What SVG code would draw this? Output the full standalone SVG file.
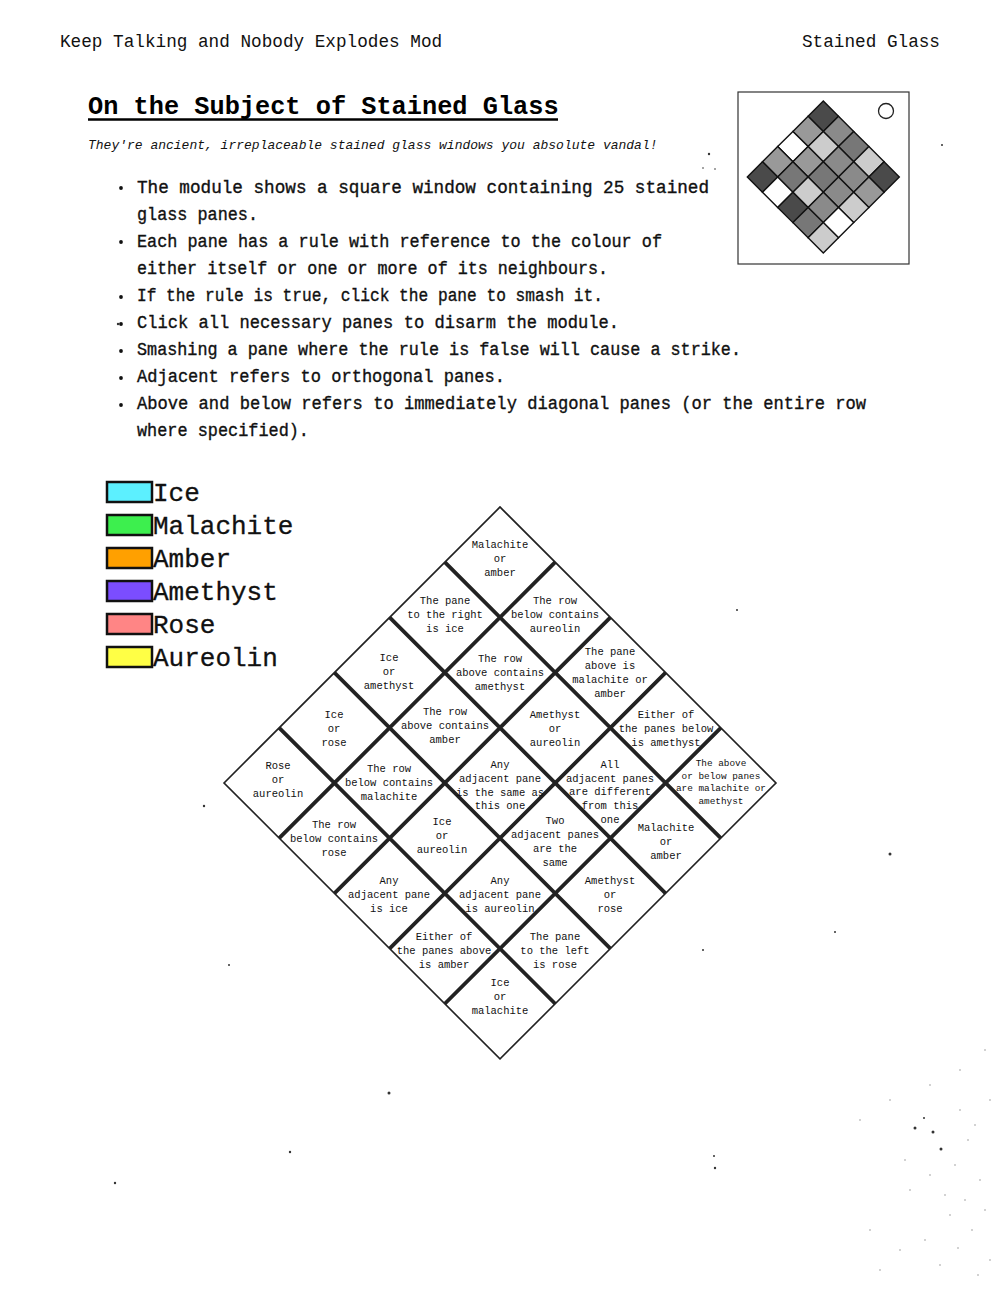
<svg xmlns="http://www.w3.org/2000/svg" width="1000" height="1300" viewBox="0 0 1000 1300">
<style>
.hdr{font-family:"Liberation Mono","DejaVu Sans Mono",monospace;font-size:17.7px;fill:#111}
.title{font-family:"Liberation Mono","DejaVu Sans Mono",monospace;font-size:25.3px;font-weight:bold;fill:#000}
.sub{font-family:"Liberation Mono","DejaVu Sans Mono",monospace;font-size:13px;font-style:italic;fill:#111}
.bul{font-family:"Liberation Mono","DejaVu Sans Mono",monospace;font-size:17.7px;fill:#111;stroke:#111;stroke-width:0.35}
.leg{font-family:"Liberation Mono","DejaVu Sans Mono",monospace;font-size:26px;fill:#111;stroke:#111;stroke-width:0.3}
.pn{font-family:"Liberation Mono","DejaVu Sans Mono",monospace;font-size:10.5px;fill:#111;text-anchor:middle}
.pns{font-family:"Liberation Mono","DejaVu Sans Mono",monospace;font-size:9.4px;fill:#111;text-anchor:middle}
.sw{stroke:#111;stroke-width:2.5}
.ic{stroke:#111;stroke-width:1.4}
.grid{stroke:#222;stroke-width:3.8;fill:none}
.speck{fill:#333}
</style>

<g id="header">
<text class="hdr" x="60" y="47">Keep Talking and Nobody Explodes Mod</text>
<text class="hdr" x="940" y="47" text-anchor="end">Stained Glass</text>
</g>

<g id="title">
<text class="title" x="88" y="114">On the Subject of Stained Glass</text>
<line x1="88" y1="119.5" x2="558" y2="119.5" stroke="#000" stroke-width="2.5"/>
<text class="sub" x="88" y="149">They're ancient, irreplaceable stained glass windows you absolute vandal!</text>
</g>

<g id="module-picture">
<rect x="738" y="92" width="171" height="172" fill="#fff" stroke="#333" stroke-width="1.2"/>
<circle cx="886" cy="111" r="7.5" fill="#fff" stroke="#222" stroke-width="1.3"/>
<g transform="translate(823.3,101) rotate(45)">
<rect class="ic" x="0" y="0" width="21.5" height="21.5" fill="#4a4a4a"/>
<rect class="ic" x="21.5" y="0" width="21.5" height="21.5" fill="#8a8a8a"/>
<rect class="ic" x="43" y="0" width="21.5" height="21.5" fill="#777"/>
<rect class="ic" x="64.5" y="0" width="21.5" height="21.5" fill="#ccc"/>
<rect class="ic" x="86" y="0" width="21.5" height="21.5" fill="#4a4a4a"/>
<rect class="ic" x="0" y="21.5" width="21.5" height="21.5" fill="#999"/>
<rect class="ic" x="21.5" y="21.5" width="21.5" height="21.5" fill="#ccc"/>
<rect class="ic" x="43" y="21.5" width="21.5" height="21.5" fill="#8a8a8a"/>
<rect class="ic" x="64.5" y="21.5" width="21.5" height="21.5" fill="#8a8a8a"/>
<rect class="ic" x="86" y="21.5" width="21.5" height="21.5" fill="#999"/>
<rect class="ic" x="0" y="43" width="21.5" height="21.5" fill="#fff"/>
<rect class="ic" x="21.5" y="43" width="21.5" height="21.5" fill="#999"/>
<rect class="ic" x="43" y="43" width="21.5" height="21.5" fill="#777"/>
<rect class="ic" x="64.5" y="43" width="21.5" height="21.5" fill="#8a8a8a"/>
<rect class="ic" x="86" y="43" width="21.5" height="21.5" fill="#ccc"/>
<rect class="ic" x="0" y="64.5" width="21.5" height="21.5" fill="#999"/>
<rect class="ic" x="21.5" y="64.5" width="21.5" height="21.5" fill="#777"/>
<rect class="ic" x="43" y="64.5" width="21.5" height="21.5" fill="#ccc"/>
<rect class="ic" x="64.5" y="64.5" width="21.5" height="21.5" fill="#8a8a8a"/>
<rect class="ic" x="86" y="64.5" width="21.5" height="21.5" fill="#fff"/>
<rect class="ic" x="0" y="86" width="21.5" height="21.5" fill="#4a4a4a"/>
<rect class="ic" x="21.5" y="86" width="21.5" height="21.5" fill="#fff"/>
<rect class="ic" x="43" y="86" width="21.5" height="21.5" fill="#4a4a4a"/>
<rect class="ic" x="64.5" y="86" width="21.5" height="21.5" fill="#777"/>
<rect class="ic" x="86" y="86" width="21.5" height="21.5" fill="#ccc"/>
</g>
</g>

<g id="bullets">
<circle cx="121" cy="188" r="1.9" fill="#111"/>
<text class="bul" x="137" y="193" textLength="572" lengthAdjust="spacingAndGlyphs">The module shows a square window containing 25 stained</text>
<text class="bul" x="137" y="220" textLength="121" lengthAdjust="spacingAndGlyphs">glass panes.</text>
<circle cx="121" cy="242" r="1.9" fill="#111"/>
<text class="bul" x="137" y="247" textLength="525" lengthAdjust="spacingAndGlyphs">Each pane has a rule with reference to the colour of</text>
<text class="bul" x="137" y="274" textLength="471" lengthAdjust="spacingAndGlyphs">either itself or one or more of its neighbours.</text>
<circle cx="121" cy="297" r="1.9" fill="#111"/>
<text class="bul" x="137" y="301" textLength="466" lengthAdjust="spacingAndGlyphs">If the rule is true, click the pane to smash it.</text>
<circle cx="121" cy="324" r="1.9" fill="#111"/>
<text class="bul" x="137" y="328" textLength="482" lengthAdjust="spacingAndGlyphs">Click all necessary panes to disarm the module.</text>
<circle cx="121" cy="351" r="1.9" fill="#111"/>
<text class="bul" x="137" y="355" textLength="604" lengthAdjust="spacingAndGlyphs">Smashing a pane where the rule is false will cause a strike.</text>
<circle cx="121" cy="378" r="1.9" fill="#111"/>
<text class="bul" x="137" y="382" textLength="368" lengthAdjust="spacingAndGlyphs">Adjacent refers to orthogonal panes.</text>
<circle cx="121" cy="405" r="1.9" fill="#111"/>
<text class="bul" x="137" y="409" textLength="729" lengthAdjust="spacingAndGlyphs">Above and below refers to immediately diagonal panes (or the entire row</text>
<text class="bul" x="137" y="436" textLength="172" lengthAdjust="spacingAndGlyphs">where specified).</text>
</g>

<g id="legend">
<rect class="sw" x="107" y="482" width="45" height="20" fill="#5cf0ff"/>
<text class="leg" x="153" y="501">Ice</text>
<rect class="sw" x="107" y="515" width="45" height="20" fill="#3def4e"/>
<text class="leg" x="153" y="534">Malachite</text>
<rect class="sw" x="107" y="548" width="45" height="20" fill="#ffa000"/>
<text class="leg" x="153" y="567">Amber</text>
<rect class="sw" x="107" y="581" width="45" height="20" fill="#7b4dff"/>
<text class="leg" x="153" y="600">Amethyst</text>
<rect class="sw" x="107" y="614" width="45" height="20" fill="#ff8585"/>
<text class="leg" x="153" y="633">Rose</text>
<rect class="sw" x="107" y="647" width="45" height="20" fill="#ffff45"/>
<text class="leg" x="153" y="666">Aureolin</text>
</g>

<g id="connectors">
<g transform="translate(500,507) rotate(45)">
<rect x="0" y="0" width="390.3" height="390.3" fill="none" stroke="#222" stroke-width="1.6"/>
<path class="grid" d="M78.06 0V390.3M156.12 0V390.3M234.18 0V390.3M312.24 0V390.3M0 78.06H390.3M0 156.12H390.3M0 234.18H390.3M0 312.24H390.3"/>
</g>
</g>

<g id="pane-1"><text class="pn" x="500" y="548">Malachite</text><text class="pn" x="500" y="562">or</text><text class="pn" x="500" y="576">amber</text></g>
<g id="pane-2"><text class="pn" x="445" y="604">The pane</text><text class="pn" x="445" y="618">to the right</text><text class="pn" x="445" y="632">is ice</text></g>
<g id="pane-3"><text class="pn" x="555" y="604">The row</text><text class="pn" x="555" y="618">below contains</text><text class="pn" x="555" y="632">aureolin</text></g>
<g id="pane-4"><text class="pn" x="389" y="661">Ice</text><text class="pn" x="389" y="675">or</text><text class="pn" x="389" y="689">amethyst</text></g>
<g id="pane-5"><text class="pn" x="500" y="662">The row</text><text class="pn" x="500" y="676">above contains</text><text class="pn" x="500" y="690">amethyst</text></g>
<g id="pane-6"><text class="pn" x="610" y="655">The pane</text><text class="pn" x="610" y="669">above is</text><text class="pn" x="610" y="683">malachite or</text><text class="pn" x="610" y="697">amber</text></g>
<g id="pane-7"><text class="pn" x="334" y="718">Ice</text><text class="pn" x="334" y="732">or</text><text class="pn" x="334" y="746">rose</text></g>
<g id="pane-8"><text class="pn" x="445" y="715">The row</text><text class="pn" x="445" y="729">above contains</text><text class="pn" x="445" y="743">amber</text></g>
<g id="pane-9"><text class="pn" x="555" y="718">Amethyst</text><text class="pn" x="555" y="732">or</text><text class="pn" x="555" y="746">aureolin</text></g>
<g id="pane-10"><text class="pn" x="666" y="718">Either of</text><text class="pn" x="666" y="732">the panes below</text><text class="pn" x="666" y="746">is amethyst</text></g>
<g id="pane-11"><text class="pn" x="278" y="769">Rose</text><text class="pn" x="278" y="783">or</text><text class="pn" x="278" y="797">aureolin</text></g>
<g id="pane-12"><text class="pn" x="389" y="772">The row</text><text class="pn" x="389" y="786">below contains</text><text class="pn" x="389" y="800">malachite</text></g>
<g id="pane-13"><text class="pn" x="500" y="768">Any</text><text class="pn" x="500" y="782">adjacent pane</text><text class="pn" x="500" y="796">is the same as</text><text class="pn" x="500" y="809">this one</text></g>
<g id="pane-14"><text class="pn" x="610" y="768">All</text><text class="pn" x="610" y="782">adjacent panes</text><text class="pn" x="610" y="795">are different</text><text class="pn" x="610" y="809">from this</text><text class="pn" x="610" y="823">one</text></g>
<g id="pane-15"><text class="pns" x="721" y="766">The above</text><text class="pns" x="721" y="779">or below panes</text><text class="pns" x="721" y="791">are malachite or</text><text class="pns" x="721" y="804">amethyst</text></g>
<g id="pane-16"><text class="pn" x="334" y="828">The row</text><text class="pn" x="334" y="842">below contains</text><text class="pn" x="334" y="856">rose</text></g>
<g id="pane-17"><text class="pn" x="442" y="825">Ice</text><text class="pn" x="442" y="839">or</text><text class="pn" x="442" y="853">aureolin</text></g>
<g id="pane-18"><text class="pn" x="555" y="824">Two</text><text class="pn" x="555" y="838">adjacent panes</text><text class="pn" x="555" y="852">are the</text><text class="pn" x="555" y="866">same</text></g>
<g id="pane-19"><text class="pn" x="666" y="831">Malachite</text><text class="pn" x="666" y="845">or</text><text class="pn" x="666" y="859">amber</text></g>
<g id="pane-20"><text class="pn" x="389" y="884">Any</text><text class="pn" x="389" y="898">adjacent pane</text><text class="pn" x="389" y="912">is ice</text></g>
<g id="pane-21"><text class="pn" x="500" y="884">Any</text><text class="pn" x="500" y="898">adjacent pane</text><text class="pn" x="500" y="912">is aureolin</text></g>
<g id="pane-22"><text class="pn" x="610" y="884">Amethyst</text><text class="pn" x="610" y="898">or</text><text class="pn" x="610" y="912">rose</text></g>
<g id="pane-23"><text class="pn" x="444" y="940">Either of</text><text class="pn" x="444" y="954">the panes above</text><text class="pn" x="444" y="968">is amber</text></g>
<g id="pane-24"><text class="pn" x="555" y="940">The pane</text><text class="pn" x="555" y="954">to the left</text><text class="pn" x="555" y="968">is rose</text></g>
<g id="pane-25"><text class="pn" x="500" y="986">Ice</text><text class="pn" x="500" y="1000">or</text><text class="pn" x="500" y="1014">malachite</text></g>

<g id="specks">
<circle class="speck" cx="709" cy="154" r="1.2"/>
<circle class="speck" cx="703" cy="168" r="0.8"/>
<circle class="speck" cx="715" cy="169" r="0.8"/>
<circle class="speck" cx="942" cy="145" r="1"/>
<circle class="speck" cx="118" cy="324" r="1.2"/>
<circle class="speck" cx="737" cy="610" r="1"/>
<circle class="speck" cx="204" cy="806" r="1.2"/>
<circle class="speck" cx="890" cy="854" r="1.5"/>
<circle class="speck" cx="835" cy="932" r="1"/>
<circle class="speck" cx="703" cy="950" r="1"/>
<circle class="speck" cx="229" cy="965" r="1"/>
<circle class="speck" cx="389" cy="1093" r="1.5"/>
<circle class="speck" cx="290" cy="1152" r="1.2"/>
<circle class="speck" cx="714" cy="1156" r="1"/>
<circle class="speck" cx="715" cy="1168" r="1.2"/>
<circle class="speck" cx="115" cy="1183" r="1.2"/>
<circle class="speck" cx="915" cy="1128" r="1.5"/>
<circle class="speck" cx="933" cy="1132" r="1.5"/>
<circle class="speck" cx="924" cy="1118" r="1"/>
<circle class="speck" cx="941" cy="1149" r="1.5"/>
<g fill="#999">
<circle cx="960" cy="1110" r="0.8"/><circle cx="975" cy="1125" r="0.8"/><circle cx="968" cy="1140" r="0.8"/>
<circle cx="955" cy="1165" r="0.8"/><circle cx="980" cy="1180" r="0.8"/><circle cx="965" cy="1200" r="0.8"/>
<circle cx="950" cy="1215" r="0.8"/><circle cx="972" cy="1230" r="0.8"/><circle cx="958" cy="1248" r="0.8"/>
<circle cx="940" cy="1265" r="0.8"/><circle cx="925" cy="1240" r="0.8"/><circle cx="910" cy="1190" r="0.8"/>
<circle cx="905" cy="1160" r="0.8"/><circle cx="930" cy="1175" r="0.8"/><circle cx="945" cy="1195" r="0.8"/>
<circle cx="985" cy="1210" r="0.8"/><circle cx="990" cy="1260" r="0.8"/><circle cx="978" cy="1275" r="0.8"/>
<circle cx="900" cy="1250" r="0.8"/><circle cx="880" cy="1270" r="0.8"/><circle cx="870" cy="1230" r="0.8"/>
<circle cx="985" cy="1050" r="0.8"/><circle cx="960" cy="1070" r="0.8"/><circle cx="930" cy="1085" r="0.8"/>
<circle cx="890" cy="1100" r="0.8"/><circle cx="860" cy="1120" r="0.8"/><circle cx="990" cy="1100" r="0.8"/>
</g>
</g>
</svg>
